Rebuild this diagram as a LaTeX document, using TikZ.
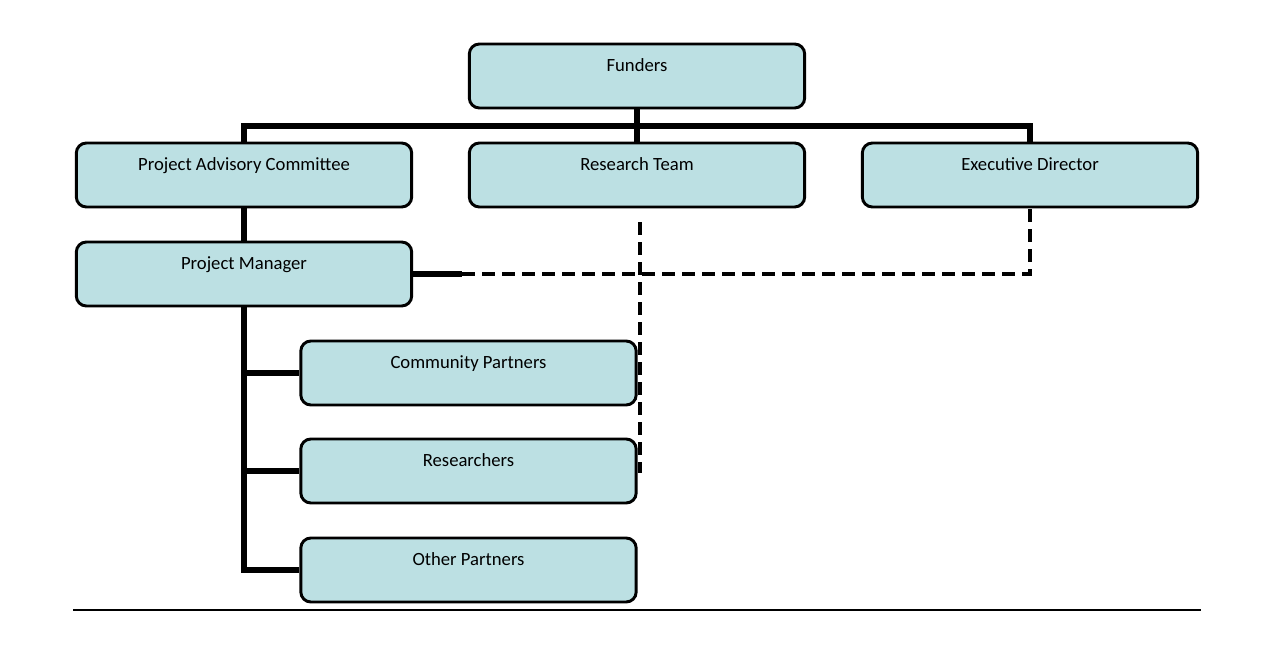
\documentclass[tikz,border=0pt]{standalone}
\usepackage{fontspec}
\setmainfont{Carlito}
\definecolor{boxfill}{RGB}{188,224,227}
\tikzset{
  x=0.75pt, y=-0.75pt,
  box/.style={draw=black, line width=2.2pt, fill=boxfill, rounded corners=7.5pt,
    minimum width=251.5pt, minimum height=48pt, inner sep=0pt,
    text height=8pt, text depth=15pt, font=\fontsize{14}{16}\selectfont},
  conn/.style={line width=3.8pt},
  dconn/.style={line width=3pt, dash pattern=on 10pt off 5pt},
}
\begin{document}
\begin{tikzpicture}
\useasboundingbox (0,0) rectangle (1269,660);
\node[box] (f) at (637,76) {Funders};
\node[box] (pac) at (244,175) {Project Advisory Committee};
\node[box] (rt) at (637,175) {Research Team};
\node[box] (ed) at (1030,175) {Executive Director};
\node[box] (pm) at (244,274) {Project Manager};
\node[box] (cp) at (468.5,373) {Community Partners};
\node[box] (r) at (468.5,471) {Researchers};
\node[box] (op) at (468.5,570) {Other Partners};
\coordinate (bus) at (637,126);
\coordinate (v1) at (640,222);
\coordinate (v2) at (640,473);
\coordinate (l1) at (73,610);
\coordinate (l2) at (1201,610);
% solid connectors
\draw[conn] (f.south) -- (rt.north);
\draw[conn] (pac.north) -- (pac.north |- bus) -- (ed.north |- bus) -- (ed.north);
\draw[conn] (pac.south) -- (pm.north);
\draw[conn] (pm.south) |- (op.west);
\draw[conn] (pm.south |- cp.west) -- (cp.west);
\draw[conn] (pm.south |- r.west) -- (r.west);
% dotted-line relations
\draw[conn] (pm.east) -- ++(49,0) coordinate (d0);
\draw[dconn] (d0) -| (ed.south);
\draw[dconn] (v1) -- (v2);
% bottom rule
\draw[line width=1.6pt] (l1) -- (l2);
\end{tikzpicture}
\end{document}
